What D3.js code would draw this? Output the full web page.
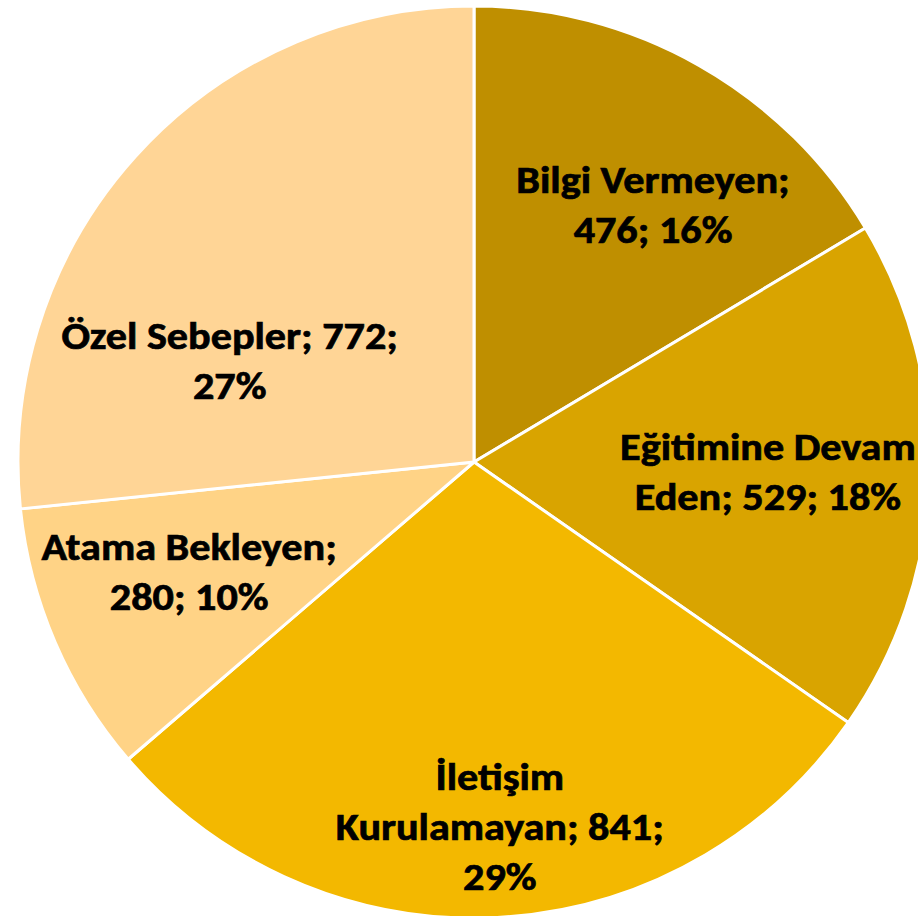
<!DOCTYPE html>
<html>
<head>
<meta charset="utf-8">
<script src="https://cdn.jsdelivr.net/npm/d3@7"></script>
<style>
  body { margin: 0; background: #fff; }
  svg { display: block; }
  text { font-family: Carlito, Calibri, "Open Sans", sans-serif; font-weight: 700; fill: #000; stroke: #000; stroke-width: 0.7px; }
</style>
</head>
<body>
<svg id="svg"></svg>
<script>
var categories = ["Bilgi Vermeyen", "Eğitimine Devam Eden", "İletişim Kurulamayan", "Atama Bekleyen", "Özel Sebepler"];
var values = [476, 529, 841, 280, 772];
var percents = ["16%", "18%", "29%", "10%", "27%"];
// how each label wraps in the reference
var labelLines = [
  ["Bilgi Vermeyen;", "476; 16%"],
  ["Eğitimine Devam", "Eden; 529; 18%"],
  ["İletişim", "Kurulamayan; 841;", "29%"],
  ["Atama Bekleyen;", "280; 10%"],
  ["Özel Sebepler; 772;", "27%"]
];
var colors = ["#bf8f00", "#d9a400", "#f3b800", "#ffd386", "#ffd596"];

var width = 918, height = 916;
var cx = 474, cy = 462, radius = 456;

var svg = d3.select("#svg")
    .attr("width", width)
    .attr("height", height);

var g = svg.append("g")
    .attr("transform", "translate(" + cx + "," + cy + ")");

var pie = d3.pie().sort(null).value(function(d) { return d; });
var arcs = pie(values);

var arc = d3.arc().innerRadius(0).outerRadius(radius);
var labelArc = d3.arc().innerRadius(radius * 0.68).outerRadius(radius * 0.68);

// nudges so labels land where excel put them
var labelNudge = [[26, 13], [-16, 0], [10, 56], [0, -12], [-14, 107]];

g.selectAll("path.slice")
    .data(arcs)
  .enter().append("path")
    .attr("class", "slice")
    .attr("d", arc)
    .attr("fill", function(d, i) { return colors[i]; })
    .attr("stroke", "#fff")
    .attr("stroke-width", 3)
    .attr("stroke-linejoin", "round");

var lineH = 50;
var labels = g.selectAll("text.lbl")
    .data(arcs)
  .enter().append("text")
    .attr("class", "lbl")
    .attr("text-anchor", "middle")
    .style("font-size", "38px")
    .attr("transform", function(d, i) {
      var c = labelArc.centroid(d);
      // calibri in the original runs a bit wider than carlito here
      return "translate(" + (c[0] + labelNudge[i][0]) + "," + (c[1] + labelNudge[i][1]) + ") scale(1.11,1)";
    });

labels.each(function(d, i) {
  var lines = labelLines[i];
  var t = d3.select(this);
  lines.forEach(function(s, j) {
    t.append("tspan")
      .attr("x", 0)
      .attr("y", (j - (lines.length - 1) / 2) * lineH)
      .attr("dy", "0.33em")
      .text(s);
  });
});
</script>
</body>
</html>
